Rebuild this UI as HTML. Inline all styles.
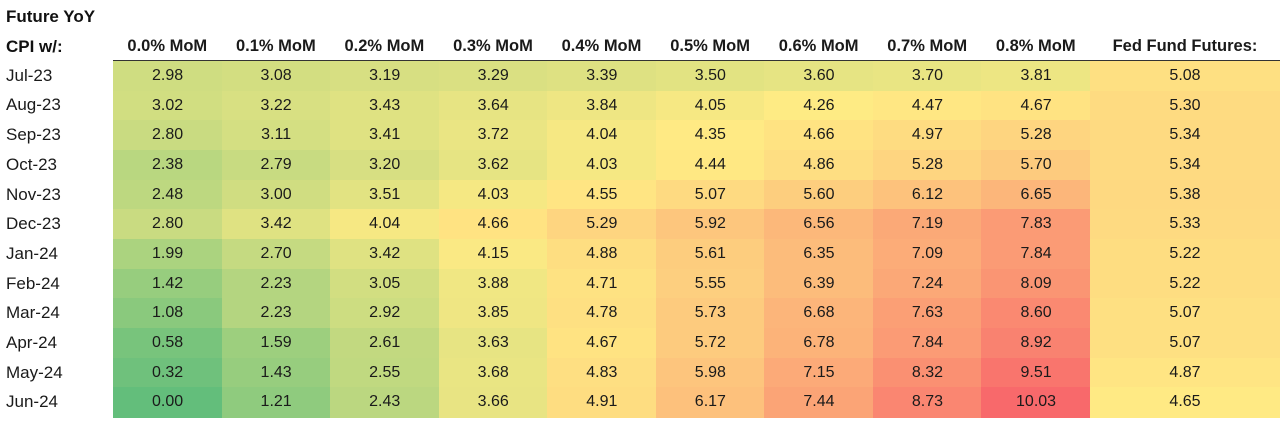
<!DOCTYPE html>
<html><head><meta charset="utf-8"><style>
body{margin:0;width:1280px;height:421px;background:#fff;font-family:"Liberation Sans",sans-serif;overflow:hidden;position:relative}
.t{position:absolute;font-size:17px;color:#111;white-space:nowrap}
.h{font-weight:bold}
.c{position:absolute;display:flex;align-items:center;justify-content:center;font-size:16px;color:#1a1a1a;white-space:nowrap}
.c.h{font-size:16.5px}
</style></head><body>
<div class="t h" style="left:6px;top:7px">Future YoY</div>
<div class="t h" style="left:6px;top:37px">CPI w/:</div>
<div style="position:absolute;left:113px;top:60px;width:1167px;height:1px;background:#333;z-index:2"></div>
<script>
const months=["Jul-23","Aug-23","Sep-23","Oct-23","Nov-23","Dec-23","Jan-24","Feb-24","Mar-24","Apr-24","May-24","Jun-24"];
const headers=["0.0% MoM","0.1% MoM","0.2% MoM","0.3% MoM","0.4% MoM","0.5% MoM","0.6% MoM","0.7% MoM","0.8% MoM"];
const values=[
[2.98,3.08,3.19,3.29,3.39,3.50,3.60,3.70,3.81],
[3.02,3.22,3.43,3.64,3.84,4.05,4.26,4.47,4.67],
[2.80,3.11,3.41,3.72,4.04,4.35,4.66,4.97,5.28],
[2.38,2.79,3.20,3.62,4.03,4.44,4.86,5.28,5.70],
[2.48,3.00,3.51,4.03,4.55,5.07,5.60,6.12,6.65],
[2.80,3.42,4.04,4.66,5.29,5.92,6.56,7.19,7.83],
[1.99,2.70,3.42,4.15,4.88,5.61,6.35,7.09,7.84],
[1.42,2.23,3.05,3.88,4.71,5.55,6.39,7.24,8.09],
[1.08,2.23,2.92,3.85,4.78,5.73,6.68,7.63,8.60],
[0.58,1.59,2.61,3.63,4.67,5.72,6.78,7.84,8.92],
[0.32,1.43,2.55,3.68,4.83,5.98,7.15,8.32,9.51],
[0.00,1.21,2.43,3.66,4.91,6.17,7.44,8.73,10.03]];
const fedFutures=[5.08,5.30,5.34,5.34,5.38,5.33,5.22,5.22,5.07,5.07,4.87,4.65];
const X0=113,CW=108.56,Y0=61,RH=29.67,FX=1090,FW=190;
const lo=[99,190,123],mid=[255,235,132],hi=[248,105,107];
const vmin=0,vmid=4.3,vmax=10.03;
function col(v){let a,b,t;if(v<=vmid){a=lo;b=mid;t=(v-vmin)/(vmid-vmin);}else{a=mid;b=hi;t=(v-vmid)/(vmax-vmid);}t=Math.max(0,Math.min(1,t));return 'rgb('+a.map((x,i)=>Math.round(x+(b[i]-x)*t)).join(',')+')';}
function add(cls,txt,l,tp,w,h,bg,name){const d=document.createElement('div');d.className=cls;d.textContent=txt;d.style.left=l+'px';d.style.top=tp+'px';d.style.width=w+'px';d.style.height=h+'px';if(bg)d.style.background=bg;


document.body.appendChild(d);return d;}
headers.forEach((h,j)=>add('c h',h,X0+j*CW,33,CW,26,null,'column-header'));
add('c h','Fed Fund Futures:',FX,33,FW,26,null,'column-header-fed');
months.forEach((m,i)=>{const y=Y0+i*RH;
const r=add('c',m,6,y,100,RH,null,'row-label');r.style.justifyContent='flex-start';r.style.fontSize='17px';
values[i].forEach((v,j)=>add('c',v.toFixed(2),X0+j*CW,y,CW+0.6,RH+0.6,col(v),'heat-cell'));
add('c',fedFutures[i].toFixed(2),FX,y,FW,RH+0.6,col(fedFutures[i]-0.3),'fed-cell');});
</script>
</body></html>
